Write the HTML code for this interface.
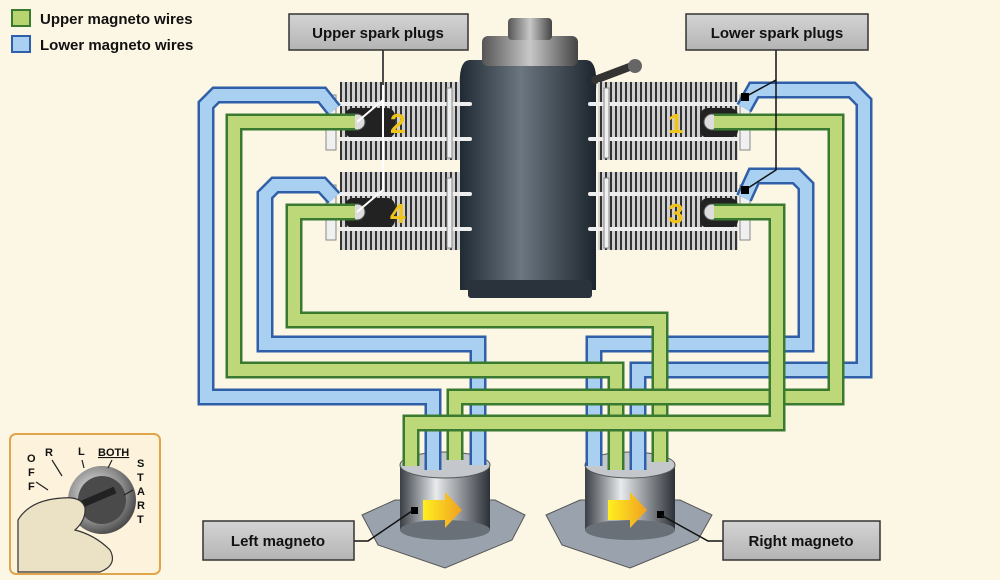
<!DOCTYPE html>
<html><head><meta charset="utf-8"><style>
html,body{margin:0;padding:0;background:#fcf6e4;}
svg{display:block;}
text{font-family:"Liberation Sans",Arial,sans-serif;font-weight:bold;fill:#111;}
</style></head><body>
<svg width="1000" height="580" viewBox="0 0 1000 580" xmlns="http://www.w3.org/2000/svg">
<defs>
<linearGradient id="crank" x1="0" x2="1" y1="0" y2="0">
<stop offset="0" stop-color="#1f2a33"/><stop offset="0.45" stop-color="#6c7680"/><stop offset="1" stop-color="#1c252d"/></linearGradient>
<linearGradient id="boss" x1="0" x2="1"><stop offset="0" stop-color="#555"/><stop offset="0.5" stop-color="#c8c8c8"/><stop offset="1" stop-color="#444"/></linearGradient>
<linearGradient id="mag" x1="0" x2="1"><stop offset="0" stop-color="#3a3f46"/><stop offset="0.4" stop-color="#e8eaec"/><stop offset="1" stop-color="#2c3138"/></linearGradient>
<linearGradient id="lbl" x1="0" x2="0" y1="0" y2="1"><stop offset="0" stop-color="#d4d4d4"/><stop offset="1" stop-color="#b4b4b4"/></linearGradient>
<linearGradient id="arr" x1="0" x2="1"><stop offset="0" stop-color="#ffef20"/><stop offset="1" stop-color="#f0a020"/></linearGradient>
<radialGradient id="knob" cx="0.4" cy="0.4" r="0.7"><stop offset="0" stop-color="#f0f0f0"/><stop offset="0.6" stop-color="#8a8a8a"/><stop offset="1" stop-color="#333"/></radialGradient>
<pattern id="fins" width="5" height="10" patternUnits="userSpaceOnUse"><rect width="5" height="10" fill="#d0d0d0"/><rect width="2" height="10" fill="#333"/></pattern>
</defs>

<rect x="12" y="10" width="18" height="16" fill="#b8d470" stroke="#3a7a30" stroke-width="2"/>
<text x="40" y="24" font-size="15">Upper magneto wires</text>
<rect x="12" y="36" width="18" height="16" fill="#a9d0f0" stroke="#2f5fa8" stroke-width="2"/>
<text x="40" y="50" font-size="15">Lower magneto wires</text>

<path d="M470,60 Q458,60 460,90 L460,290 L596,290 L596,90 Q598,60 586,60 Z" fill="url(#crank)"/>
<rect x="468" y="280" width="124" height="18" rx="3" fill="#2a333b"/>
<rect x="482" y="36" width="96" height="30" rx="6" fill="url(#boss)"/>
<rect x="508" y="18" width="44" height="22" rx="4" fill="url(#boss)"/>
<line x1="595" y1="80" x2="632" y2="66" stroke="#333" stroke-width="8" stroke-linecap="round"/>
<circle cx="635" cy="66" r="7" fill="#666"/>

<g>
<rect x="340" y="82" width="120" height="78" fill="url(#fins)"/>
<rect x="340" y="172" width="120" height="78" fill="url(#fins)"/>
<rect x="598" y="82" width="140" height="78" fill="url(#fins)"/>
<rect x="598" y="172" width="140" height="78" fill="url(#fins)"/>
<rect x="345" y="108" width="50" height="30" rx="8" fill="#222"/>
<rect x="345" y="198" width="50" height="30" rx="8" fill="#222"/>
<rect x="700" y="108" width="38" height="30" rx="8" fill="#222"/>
<rect x="700" y="198" width="38" height="30" rx="8" fill="#222"/>
<g stroke="#eee" stroke-width="4" stroke-linecap="round">
<line x1="340" y1="104" x2="470" y2="104"/><line x1="340" y1="139" x2="470" y2="139"/>
<line x1="340" y1="194" x2="470" y2="194"/><line x1="340" y1="229" x2="470" y2="229"/>
<line x1="590" y1="104" x2="740" y2="104"/><line x1="590" y1="139" x2="740" y2="139"/>
<line x1="590" y1="194" x2="740" y2="194"/><line x1="590" y1="229" x2="740" y2="229"/>
</g>
<g fill="#f0f0f0" stroke="#888" stroke-width="1">
<rect x="326" y="95" width="10" height="55"/><rect x="326" y="185" width="10" height="55"/>
<rect x="740" y="95" width="10" height="55"/><rect x="740" y="185" width="10" height="55"/>
<rect x="447" y="88" width="5" height="70"/><rect x="447" y="178" width="5" height="70"/>
<rect x="604" y="88" width="5" height="70"/><rect x="604" y="178" width="5" height="70"/>
</g>
<g fill="#ddd" stroke="#555"><circle cx="357" cy="122" r="8"/><circle cx="357" cy="212" r="8"/><circle cx="712" cy="122" r="8"/><circle cx="712" cy="212" r="8"/></g>
<g font-size="28"><text x="390" y="133" style="fill:#f0c419">2</text><text x="390" y="223" style="fill:#f0c419">4</text><text x="668" y="133" style="fill:#f0c419">1</text><text x="668" y="223" style="fill:#f0c419">3</text></g>
</g>

<!-- magnetos -->
<g>
<path d="M362,515 L395,500 L495,500 L525,515 L512,540 L445,568 L378,545 Z" fill="#9aa3ad" stroke="#555"/>
<rect x="400" y="465" width="90" height="65" fill="url(#mag)"/>
<ellipse cx="445" cy="530" rx="45" ry="10" fill="#6a7078"/>
<ellipse cx="445" cy="465" rx="45" ry="13" fill="#c4c8cc" stroke="#555"/>
<path d="M423,500 L445,500 L445,492 L462,510 L445,528 L445,520 L423,520 Z" fill="url(#arr)"/>
<path d="M546,515 L580,500 L680,500 L712,515 L698,540 L630,568 L562,545 Z" fill="#9aa3ad" stroke="#555"/>
<rect x="585" y="465" width="90" height="65" fill="url(#mag)"/>
<ellipse cx="630" cy="530" rx="45" ry="10" fill="#6a7078"/>
<ellipse cx="630" cy="465" rx="45" ry="13" fill="#c4c8cc" stroke="#555"/>
<path d="M608,500 L630,500 L630,492 L647,510 L630,528 L630,520 L608,520 Z" fill="url(#arr)"/>
</g>

<!-- wires, each drawn outline then fill -->
<g fill="none" stroke-linejoin="miter">
<path d="M334,110 L322,95 L216,95 L206,105 L206,397 L433,397 L433,470" stroke="#2f5fa8" stroke-width="17"/>
<path d="M334,110 L322,95 L216,95 L206,105 L206,397 L433,397 L433,470" stroke="#a9d0f0" stroke-width="12"/>
<path d="M334,198 L322,185 L275,185 L265,195 L265,344 L478,344 L478,465" stroke="#2f5fa8" stroke-width="17"/>
<path d="M334,198 L322,185 L275,185 L265,195 L265,344 L478,344 L478,465" stroke="#a9d0f0" stroke-width="12"/>
<path d="M744,108 L754,90 L852,90 L864,102 L864,370 L638,370 L638,470" stroke="#2f5fa8" stroke-width="17"/>
<path d="M744,108 L754,90 L852,90 L864,102 L864,370 L638,370 L638,470" stroke="#a9d0f0" stroke-width="12"/>
<path d="M744,198 L754,176 L796,176 L806,186 L806,344 L594,344 L594,466" stroke="#2f5fa8" stroke-width="17"/>
<path d="M744,198 L754,176 L796,176 L806,186 L806,344 L594,344 L594,466" stroke="#a9d0f0" stroke-width="12"/>

<path d="M355,212 L294,212 L294,320 L660,320 L660,462" stroke="#3a7a30" stroke-width="17"/>
<path d="M355,212 L294,212 L294,320 L660,320 L660,462" stroke="#bcd878" stroke-width="12"/>
<path d="M355,122 L234,122 L234,370 L616,370 L616,470" stroke="#3a7a30" stroke-width="17"/>
<path d="M355,122 L234,122 L234,370 L616,370 L616,470" stroke="#bcd878" stroke-width="12"/>
<path d="M714,122 L836,122 L836,397 L455,397 L455,460" stroke="#3a7a30" stroke-width="17"/>
<path d="M714,122 L836,122 L836,397 L455,397 L455,460" stroke="#bcd878" stroke-width="12"/>
<path d="M714,212 L777,212 L777,423 L411,423 L411,466" stroke="#3a7a30" stroke-width="17"/>
<path d="M714,212 L777,212 L777,423 L411,423 L411,466" stroke="#bcd878" stroke-width="12"/>
</g>
<rect x="411" y="507" width="7" height="7" fill="#000"/>
<rect x="657" y="511" width="7" height="7" fill="#000"/>

<g stroke="#fff" stroke-width="2" fill="none">
<path d="M383,50 L383,190 L357,212"/><path d="M383,100 L357,122"/>
</g>
<line x1="383" y1="50" x2="383" y2="85" stroke="#111" stroke-width="1.5"/>
<g stroke="#111" stroke-width="1.5" fill="none">
<path d="M776,50 L776,170 L745,190"/><path d="M776,80 L745,97"/>
<path d="M354,541 L368,541 L412,511"/><path d="M723,541 L708,541 L661,515"/>
</g>
<rect x="741" y="93" width="8" height="8" fill="#000"/><rect x="741" y="186" width="8" height="8" fill="#000"/>

<g stroke="#333" stroke-width="1.5" fill="url(#lbl)">
<rect x="289" y="14" width="179" height="36"/>
<rect x="686" y="14" width="182" height="36"/>
<rect x="203" y="521" width="151" height="39"/>
<rect x="723" y="521" width="157" height="39"/>
</g>
<g font-size="15" text-anchor="middle">
<text x="378" y="38">Upper spark plugs</text>
<text x="777" y="38">Lower spark plugs</text>
<text x="278" y="546">Left magneto</text>
<text x="801" y="546">Right magneto</text>
</g>

<rect x="10" y="434" width="150" height="140" rx="6" fill="#fdf3dd" stroke="#e0a54a" stroke-width="2"/>
<circle cx="102" cy="500" r="34" fill="url(#knob)"/>
<circle cx="102" cy="500" r="24" fill="#4a4a4a"/>
<line x1="80" y1="505" x2="115" y2="490" stroke="#222" stroke-width="7"/>
<path d="M18,520 Q30,500 62,498 Q82,496 85,508 Q86,520 75,530 Q95,535 110,550 Q118,565 100,572 L18,572 Z" fill="#ebe2c6" stroke="#333" stroke-width="1.2"/>
<g font-size="11">
<text x="27" y="462">O</text><text x="28" y="476">F</text><text x="28" y="490">F</text>
<text x="45" y="456">R</text><text x="78" y="455">L</text>
<text x="98" y="456" text-decoration="underline">BOTH</text>
<text x="137" y="467">S</text><text x="137" y="481">T</text><text x="137" y="495">A</text><text x="137" y="509">R</text><text x="137" y="523">T</text>
</g>
<g stroke="#222" stroke-width="1.2"><line x1="36" y1="482" x2="48" y2="490"/><line x1="52" y1="460" x2="62" y2="476"/><line x1="82" y1="460" x2="84" y2="468"/><line x1="112" y1="460" x2="108" y2="468"/><line x1="133" y1="490" x2="124" y2="495"/></g>
</svg>
</body></html>
